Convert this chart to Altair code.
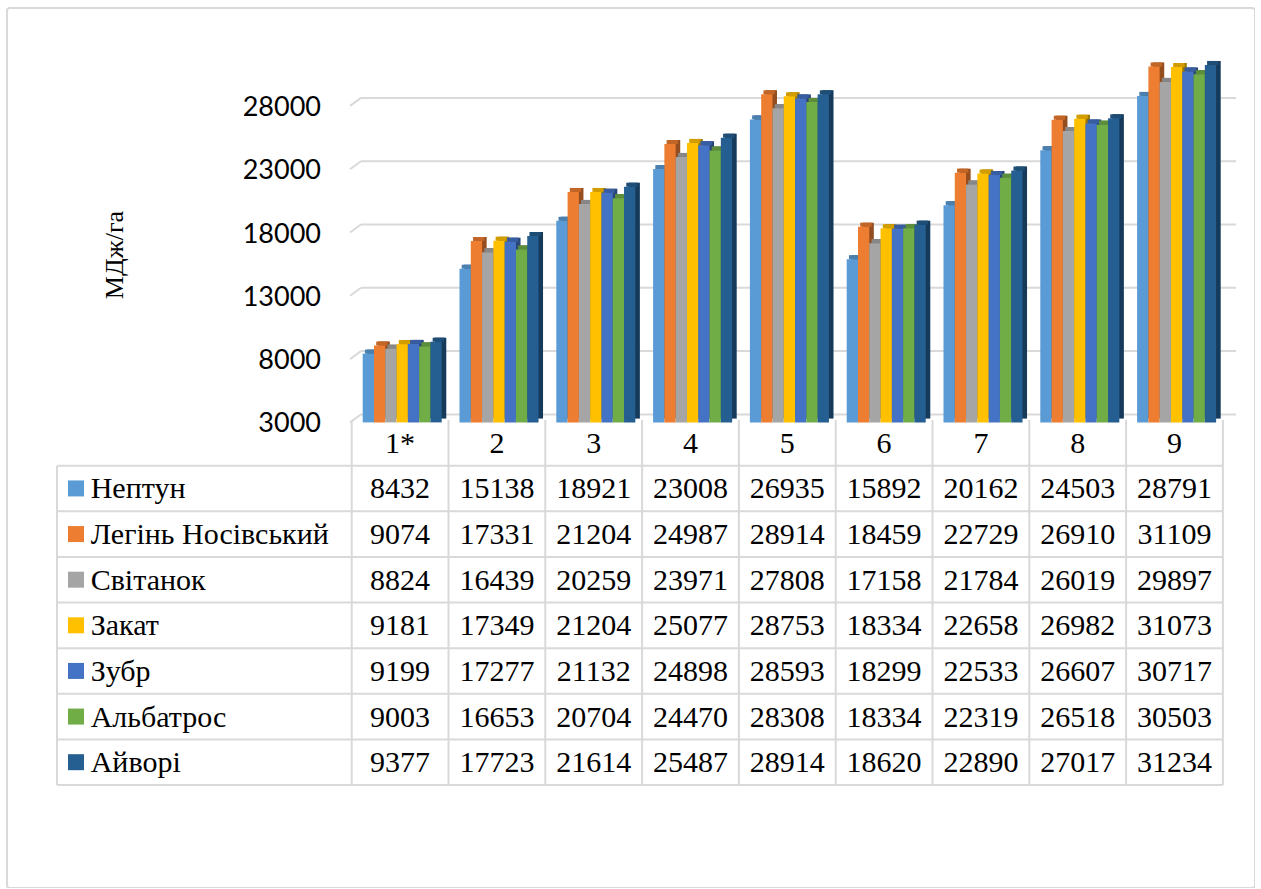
import altair as alt
import pandas as pd

# ---- data -------------------------------------------------------------
CATEGORIES = ["1*", "2", "3", "4", "5", "6", "7", "8", "9"]
SERIES = ["Нептун", "Легінь Носівський", "Світанок", "Закат", "Зубр", "Альбатрос", "Айворі"]
COLORS = ["#5B9BD5", "#ED7D31", "#A5A5A5", "#FFC000", "#4472C4", "#70AD47", "#255E91"]

NEPTUN = [8432, 15138, 18921, 23008, 26935, 15892, 20162, 24503, 28791]
LEGIN = [9074, 17331, 21204, 24987, 28914, 18459, 22729, 26910, 31109]
SVITANOK = [8824, 16439, 20259, 23971, 27808, 17158, 21784, 26019, 29897]
ZAKAT = [9181, 17349, 21204, 25077, 28753, 18334, 22658, 26982, 31073]
ZUBR = [9199, 17277, 21132, 24898, 28593, 18299, 22533, 26607, 30717]
ALBATROS = [9003, 16653, 20704, 24470, 28308, 18334, 22319, 26518, 30503]
AIVORI = [9377, 17723, 21614, 25487, 28914, 18620, 22890, 27017, 31234]
VALUES = [NEPTUN, LEGIN, SVITANOK, ZAKAT, ZUBR, ALBATROS, AIVORI]

Y_TICKS = [3000, 8000, 13000, 18000, 23000, 28000]
Y_TITLE = "МДж/га"

SERIF = "Liberation Serif"
SANS = "Lato"

# ---- layout -----------------------------------------------------------
W, H = 1248, 880            # whole framed area
PAD_L, PAD_T = 7, 8
COL_PX = 96.8               # one category column, px
COL0_PX = 351.7 - PAD_L     # left edge of first category column inside the view
FLOOR = 3000
PX_PER_VAL = 63.3 / 5000
FLOOR_PX = 422.4 - PAD_T
ROW_PX = 45.625
ROW0_PX = 420 - PAD_T

XMIN = -COL0_PX / COL_PX
XMAX = XMIN + W / COL_PX
V_TOP = FLOOR + FLOOR_PX / PX_PER_VAL
V_BOT = FLOOR - (H - FLOOR_PX) / PX_PER_VAL
R_TOP = -ROW0_PX / ROW_PX
R_BOT = (H - ROW0_PX) / ROW_PX

G0 = 11.0 / COL_PX          # gap before first bar of a group
BW = 11.29 / COL_PX         # bar width
DX = 4.5 / COL_PX           # 3-D depth, horizontal
DY = 4.0 / PX_PER_VAL       # 3-D depth, vertical
GDX0 = -1.7 / COL_PX        # back-wall gridlines
GDX1 = 9.3 / COL_PX
GEND = (1236 - 351.7) / COL_PX
GDY = 8.0 / PX_PER_VAL
TABLE_LEFT = (57 - 351.7) / COL_PX
SWATCH_X = (76 - 351.7) / COL_PX
NAME_X = (90.7 - 351.7) / COL_PX
TICK_X = (321 - 351.7) / COL_PX
TITLE_X = (115 - 351.7) / COL_PX
TITLE_V = FLOOR + (422.4 - 255) / PX_PER_VAL

xs = alt.Scale(domain=[XMIN, XMAX], nice=False, zero=False)
vs = alt.Scale(domain=[V_BOT, V_TOP], nice=False, zero=False)
rs = alt.Scale(domain=[R_TOP, R_BOT], nice=False, zero=False, reverse=True)
color = alt.Color("series:N", scale=alt.Scale(domain=SERIES, range=COLORS), legend=None)

rows = []
for j, (name, vals) in enumerate(zip(SERIES, VALUES)):
    for k, (cat, v) in enumerate(zip(CATEGORIES, vals)):
        rows.append({"series": name, "s": j, "cat": cat, "k": k, "value": v})
df = pd.DataFrame(rows)

# ---- 3-D columns ------------------------------------------------------
bars = alt.Chart(df).transform_calculate(
    x0=f"datum.k + {G0} + datum.s * {BW}",
    x1=f"datum.x0 + {BW}",
    floor=f"{FLOOR}",
    xd0=f"datum.x0 + {DX}",
    xd1=f"datum.x1 + {DX}",
    yd0=f"{FLOOR} + {DY}",
    yd1=f"datum.value + {DY}",
    xt0=f"datum.x0 + {DX / 2}",
    xt1=f"datum.x1 + {DX / 2}",
)

side = bars.mark_rect().encode(
    x=alt.X("xd0:Q", scale=xs, axis=None), x2="xd1:Q",
    y=alt.Y("yd0:Q", scale=vs, axis=None), y2="yd1:Q", color=color)
side_shade = bars.mark_rect(color="black", opacity=0.38).encode(
    x=alt.X("xd0:Q", scale=xs, axis=None), x2="xd1:Q",
    y=alt.Y("yd0:Q", scale=vs, axis=None), y2="yd1:Q")
top = bars.mark_rect().encode(
    x=alt.X("xt0:Q", scale=xs, axis=None), x2="xt1:Q",
    y=alt.Y("value:Q", scale=vs, axis=None), y2="yd1:Q", color=color)
top_shade = bars.mark_rect(color="black", opacity=0.18).encode(
    x=alt.X("xt0:Q", scale=xs, axis=None), x2="xt1:Q",
    y=alt.Y("value:Q", scale=vs, axis=None), y2="yd1:Q")
front = bars.mark_rect().encode(
    x=alt.X("x0:Q", scale=xs, axis=None), x2="x1:Q",
    y=alt.Y("floor:Q", scale=vs, axis=None), y2="value:Q", color=color)

# ---- gridlines on the back wall and value labels ----------------------
ticks = alt.Chart(pd.DataFrame({"v": Y_TICKS})).transform_calculate(
    vb=f"datum.v + {GDY}", gx0=f"{GDX0}", gx1=f"{GDX1}", gx2=f"{GEND}", tx=f"{TICK_X}")
grid_h = ticks.mark_rule(color="#d9d9d9", strokeWidth=2).encode(
    x=alt.X("gx1:Q", scale=xs, axis=None), x2="gx2:Q",
    y=alt.Y("vb:Q", scale=vs, axis=None))
grid_d = ticks.mark_rule(color="#d9d9d9", strokeWidth=2).encode(
    x=alt.X("gx0:Q", scale=xs, axis=None), x2="gx1:Q",
    y=alt.Y("v:Q", scale=vs, axis=None), y2="vb:Q")
tick_text = ticks.mark_text(align="right", baseline="middle", dy=2, font=SANS,
                            fontSize=27, color="#000000").encode(
    x=alt.X("tx:Q", scale=xs, axis=None),
    y=alt.Y("v:Q", scale=vs, axis=None), text="v:Q")
title = alt.Chart(pd.DataFrame({"t": [Y_TITLE]})).transform_calculate(
    tx=f"{TITLE_X}", ty=f"{TITLE_V}").mark_text(
    angle=270, align="center", baseline="middle", font=SERIF,
    fontSize=26, color="#000000").encode(
    x=alt.X("tx:Q", scale=xs, axis=None),
    y=alt.Y("ty:Q", scale=vs, axis=None), text="t:N")

value_part = alt.layer(grid_h, grid_d, side, side_shade, top, top_shade, front,
                       tick_text, title)

# ---- data table below the plot ----------------------------------------
n_cat, n_ser = len(CATEGORIES), len(SERIES)
hlines = pd.DataFrame({"r": list(range(1, n_ser + 2))})
hlines["xa"], hlines["xb"] = TABLE_LEFT, n_cat
vlines = pd.DataFrame({"xa": list(range(n_cat + 1)) + [TABLE_LEFT]})
vlines["ra"] = [0] * (n_cat + 1) + [1]
vlines["rb"] = n_ser + 1
line_style = dict(color="#d9d9d9", strokeWidth=2)
h_rule = alt.Chart(hlines).mark_rule(**line_style).encode(
    x=alt.X("xa:Q", scale=xs, axis=None), x2="xb:Q",
    y=alt.Y("r:Q", scale=rs, axis=None))
v_rule = alt.Chart(vlines).mark_rule(**line_style).encode(
    x=alt.X("xa:Q", scale=xs, axis=None),
    y=alt.Y("ra:Q", scale=rs, axis=None), y2="rb:Q")

text_style = dict(font=SERIF, fontSize=30, color="#000000", baseline="middle", dy=1)
header = alt.Chart(pd.DataFrame({"cat": CATEGORIES, "k": range(n_cat)})).transform_calculate(
    xc="datum.k + 0.5", rc="0.5").mark_text(align="center", **text_style).encode(
    x=alt.X("xc:Q", scale=xs, axis=None),
    y=alt.Y("rc:Q", scale=rs, axis=None), text="cat:N")
cells = alt.Chart(df).transform_calculate(
    xc="datum.k + 0.5", rc="datum.s + 1.5").mark_text(align="center", **text_style).encode(
    x=alt.X("xc:Q", scale=xs, axis=None),
    y=alt.Y("rc:Q", scale=rs, axis=None), text="value:Q")
ser_df = pd.DataFrame({"series": SERIES, "s": range(n_ser)})
ser = alt.Chart(ser_df).transform_calculate(
    rc="datum.s + 1.5", sx=f"{SWATCH_X}", nx=f"{NAME_X}")
swatch = ser.mark_square(size=256, opacity=1).encode(
    x=alt.X("sx:Q", scale=xs, axis=None),
    y=alt.Y("rc:Q", scale=rs, axis=None), color=color)
names = ser.mark_text(align="left", **text_style).encode(
    x=alt.X("nx:Q", scale=xs, axis=None),
    y=alt.Y("rc:Q", scale=rs, axis=None), text="series:N")

table_part = alt.layer(h_rule, v_rule, header, cells, swatch, names)

chart = alt.layer(value_part, table_part).resolve_scale(y="independent").properties(
    width=W, height=H,
    padding={"left": PAD_L, "top": PAD_T, "right": 0, "bottom": 0},
    background="white",
).configure(font=SERIF).configure_view(
    stroke="#d9d9d9", strokeWidth=2, cornerRadius=3
)

chart.save("out.html", embed_options={"renderer": "svg", "actions": False})
